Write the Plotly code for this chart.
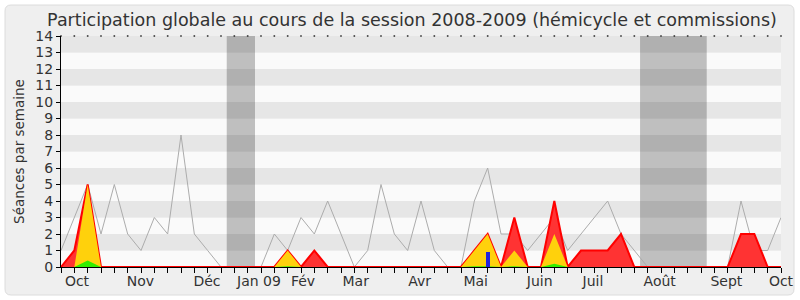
import plotly.graph_objects as go

weeks = list(range(55))
total_seances = [1, 3, 5, 2, 5, 2, 1, 3, 2, 8, 2, 1, 0, 0, 0, 0, 2, 1, 3, 2,
                 4, 2, 0, 1, 5, 2, 1, 4, 1, 0, 0, 4, 6, 2, 2, 1, 2, 3, 1, 2,
                 3, 4, 2, 1, 0, 0, 0, 0, 0, 0, 0, 4, 1, 1, 3]
presence_total = [0, 1, 5, 0, 0, 0, 0, 0, 0, 0, 0, 0, 0, 0, 0, 0, 0, 1, 0, 1,
                  0, 0, 0, 0, 0, 0, 0, 0, 0, 0, 0, 1, 2, 0, 3, 0, 0, 4, 0, 1,
                  1, 1, 2, 0, 0, 0, 0, 0, 0, 0, 0, 2, 2, 0, 0]
presence_hemicycle = [0, 0, 5, 0, 0, 0, 0, 0, 0, 0, 0, 0, 0, 0, 0, 0, 0, 1, 0, 0,
                      0, 0, 0, 0, 0, 0, 0, 0, 0, 0, 0, 1, 2, 0, 1, 0, 0, 2, 0, 0,
                      0, 0, 0, 0, 0, 0, 0, 0, 0, 0, 0, 0, 0, 0, 0]
interventions = [0, 0, 0.4, 0, 0, 0, 0, 0, 0, 0, 0, 0, 0, 0, 0, 0, 0, 0.05, 0, 0,
                 0, 0, 0, 0, 0, 0, 0, 0, 0, 0, 0, 0.05, 0.05, 0, 0.05, 0, 0, 0.2, 0, 0,
                 0, 0, 0, 0, 0, 0, 0, 0, 0, 0, 0, 0, 0, 0, 0]
questions_x = [32]
questions_y = [0.9]
vacances = [(12.43, 14.55), (43.43, 48.43)]
month_pos = [1.2, 5.96, 10.95, 14.85, 18.15, 22.1, 26.9, 31.1, 35.9, 39.9, 44.9, 49.9, 54]
month_labels = ["Oct", "Nov", "Déc", "Jan 09", "Fév", "Mar", "Avr", "Mai", "Juin",
                "Juil", "Août", "Sept", "Oct"]

FONT = "DejaVu Sans"
W, H = 800, 300
L, R, T, B = 61, 19, 36, 33
pw, ph = W - L - R, H - T - B

def px2paper(x, y):
    return (x - L) / pw, (H - B - y) / ph

fig = go.Figure()

fig.add_trace(go.Scatter(x=weeks, y=total_seances, mode="lines",
                         line=dict(color="#acacac", width=1), hoverinfo="skip"))
fig.add_trace(go.Scatter(x=weeks, y=presence_total, mode="lines", fill="tozeroy",
                         fillcolor="#ff3333", line=dict(color="#ff0000", width=2)))
fig.add_trace(go.Scatter(x=weeks, y=presence_hemicycle, mode="lines", fill="tozeroy",
                         fillcolor="#ffd10c", line=dict(color="#ffd10c", width=0)))
fig.add_trace(go.Scatter(x=weeks, y=interventions, mode="lines", fill="tozeroy",
                         fillcolor="#33ee00", line=dict(color="#33ee00", width=0)))
fig.add_trace(go.Scatter(x=weeks, y=[14] * len(weeks), mode="markers",
                         marker=dict(color="#333333", size=1.6, symbol="square"),
                         cliponaxis=False, hoverinfo="skip"))
# questions drawn on an overlaid axis so the bar sits above the filled areas
fig.add_trace(go.Bar(x=questions_x, y=questions_y, width=0.3, xaxis="x2", yaxis="y2",
                     marker=dict(color="#2222dd", line=dict(width=0))))

shapes = []
# outer rounded frame
x0, y0 = px2paper(5, 5)
x1, y1 = px2paper(794, 295)
rx, ry = 6 / pw, 6 / ph
path = (f"M {x0+rx} {y0} L {x1-rx} {y0} Q {x1} {y0} {x1} {y0-ry} "
        f"L {x1} {y1+ry} Q {x1} {y1} {x1-rx} {y1} L {x0+rx} {y1} "
        f"Q {x0} {y1} {x0} {y1+ry} L {x0} {y0-ry} Q {x0} {y0} {x0+rx} {y0} Z")
shapes.append(dict(type="path", path=path, xref="paper", yref="paper",
                   fillcolor="#efefef", line=dict(color="#dcdcdc", width=1), layer="below"))
for k in range(0, 14):
    shapes.append(dict(type="rect", xref="paper", yref="y", x0=0, x1=1, y0=k, y1=k + 1,
                       fillcolor="#e6e6e6" if k % 2 else "#fafafa",
                       line=dict(width=0), layer="below"))
for a, b in vacances:
    shapes.append(dict(type="rect", xref="x", yref="paper", x0=a, x1=b, y0=0, y1=1,
                       fillcolor="rgba(0,0,0,0.235)", line=dict(width=0), layer="below"))

fig.update_layout(
    width=W, height=H, margin=dict(l=L, r=R, t=T, b=B, autoexpand=False),
    paper_bgcolor="#ffffff", plot_bgcolor="#fafafa",
    showlegend=False, shapes=shapes, bargap=0,
    font=dict(family=FONT, color="#333333"),
    title=dict(text="Participation globale au cours de la session 2008-2009 (hémicycle et commissions)",
               x=412 / W, xanchor="center", y=1 - 20 / H, yanchor="middle",
               font=dict(size=17.5, family=FONT, color="#333333")),
    xaxis=dict(range=[0, 54], tickmode="array", tickvals=weeks, ticktext=[""] * len(weeks),
               ticks="outside", ticklen=5, tickcolor="#000000", showline=True,
               linecolor="#000000", linewidth=1, showgrid=False, zeroline=False,
               fixedrange=True, automargin=False, layer="above traces"),
    xaxis2=dict(range=[0, 54], overlaying="x", side="bottom", tickmode="array",
                tickvals=month_pos, ticktext=month_labels, ticks="", showline=False,
                showgrid=False, zeroline=False, ticklabelstandoff=4, automargin=False,
                tickfont=dict(size=14, family=FONT, color="#333333")),
    yaxis=dict(range=[0, 14], dtick=1, ticks="outside", ticklen=4, tickcolor="#000000",
               showline=True, linecolor="#000000", linewidth=1, showgrid=False,
               zeroline=False, automargin=False, layer="above traces",
               tickfont=dict(size=14, family=FONT, color="#333333"),
               title=dict(text="Séances par semaine", standoff=7,
                          font=dict(size=13.5, family=FONT, color="#333333"))),
    yaxis2=dict(range=[0, 14], overlaying="y", visible=False, automargin=False),
)

fig.write_html("out.html")
